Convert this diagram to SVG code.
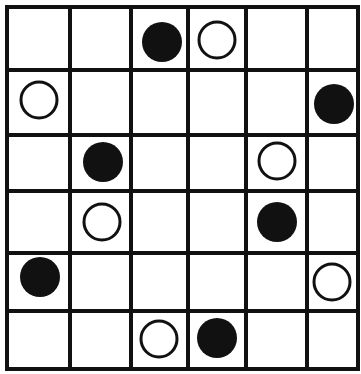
<svg xmlns="http://www.w3.org/2000/svg" width="361" height="374" viewBox="0 0 361 374">
<style>
.g{stroke:#111;stroke-width:4;fill:none}
.b{fill:#111}
.w{fill:#fff;stroke:#111;stroke-width:3}
</style>
<rect width="361" height="374" fill="#fff"/>
<g id="grid">
<rect class="g" x="7" y="7" width="351" height="362" stroke-width="5"/>
<path class="g" d="M70 7V369M131 7V369M188 7V369M246 7V369M307 7V369M7 70H358M7 135H358M7 191H358M7 253H358M7 311H358"/>
</g>
<g id="b1"><circle class="b" cx="162" cy="42" r="20"/></g>
<g id="w1"><circle class="w" cx="217" cy="40" r="18"/></g>
<g id="w2"><circle class="w" cx="39" cy="100" r="18"/></g>
<g id="b2"><circle class="b" cx="334" cy="104" r="20"/></g>
<g id="b3"><circle class="b" cx="103" cy="162" r="20"/></g>
<g id="w3"><circle class="w" cx="277" cy="161" r="18"/></g>
<g id="w4"><circle class="w" cx="102" cy="222" r="18"/></g>
<g id="b4"><circle class="b" cx="277" cy="222" r="20"/></g>
<g id="b5"><circle class="b" cx="40" cy="277" r="20"/></g>
<g id="w5"><circle class="w" cx="332" cy="282" r="18"/></g>
<g id="w6"><circle class="w" cx="159" cy="339" r="18"/></g>
<g id="b6"><circle class="b" cx="217" cy="338" r="20"/></g>
</svg>
